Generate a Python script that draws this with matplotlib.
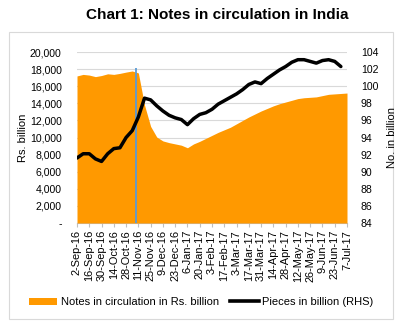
import matplotlib
matplotlib.use("Agg")
import matplotlib.pyplot as plt
import matplotlib.patches as mpatches
import matplotlib.lines as mlines
import pandas as pd
import numpy as np

plt.rcParams['font.family'] = ['Liberation Sans', 'DejaVu Sans']

# Weekly observations, 2 Sep 2016 to 7 Jul 2017
week_dates = pd.date_range("2016-09-02", "2017-07-07", freq="7D")

# Notes in circulation, Rs. billion (left axis)
notes_value = [17200, 17380, 17300, 17120, 17250, 17450, 17380, 17500, 17650, 17780,
               17550, 13800, 11300, 10050, 9600, 9400, 9250, 9100, 8800, 9250,
               9550, 9900, 10250, 10600, 10900, 11200, 11600, 12000, 12400, 12750,
               13100, 13400, 13700, 13950, 14150, 14350, 14550, 14650, 14700, 14750,
               14900, 15050, 15100, 15150, 15200]

# Pieces in circulation, billion (right axis); last week not reported
pieces = [91.6, 92.1, 92.1, 91.5, 91.2, 92.1, 92.7, 92.8, 94.0, 94.8,
          96.4, 98.6, 98.4, 97.7, 97.1, 96.6, 96.3, 96.1, 95.5, 96.2,
          96.7, 96.9, 97.3, 97.9, 98.3, 98.7, 99.1, 99.6, 100.2, 100.5,
          100.3, 100.9, 101.4, 101.9, 102.3, 102.8, 103.1, 103.1, 102.9, 102.7,
          103.0, 103.1, 102.9, 102.3, np.nan]

tick_labels = ["2-Sep-16", "16-Sep-16", "30-Sep-16", "14-Oct-16", "28-Oct-16",
               "11-Nov-16", "25-Nov-16", "9-Dec-16", "23-Dec-16", "6-Jan-17",
               "20-Jan-17", "3-Feb-17", "17-Feb-17", "3-Mar-17", "17-Mar-17",
               "31-Mar-17", "14-Apr-17", "28-Apr-17", "12-May-17", "26-May-17",
               "9-Jun-17", "23-Jun-17", "7-Jul-17"]

left_ticks = list(range(0, 20001, 2000))
left_tick_labels = ["-"] + [f"{v:,}" for v in left_ticks[1:]]
right_ticks = list(range(84, 105, 2))

demonetisation_date = pd.Timestamp("2016-11-08")
marker_height = 18100

ORANGE = "#ff9900"
BLUE = "#5b9bd5"
GRID = "#d9d9d9"
FS = 7.6

W, H = 402, 333
fig = plt.figure(figsize=(W / 100, H / 100), dpi=100)

# chart frame
fig.patches.append(mpatches.Rectangle((9 / W, 1 - 319 / H), 384 / W, 287 / H,
                                      transform=fig.transFigure, fill=False,
                                      edgecolor="#d9d9d9", linewidth=0.8))

fig.text(217 / W, 1 - 15 / H, "Chart 1: Notes in circulation in India",
         ha="center", va="center", fontsize=11, fontweight="bold")

ax = fig.add_axes([77 / W, 1 - 223 / H, 270 / W, 171 / H])
ax2 = ax.twinx()

ax.set_zorder(1)
ax2.set_zorder(2)
ax.patch.set_visible(False)
ax2.patch.set_visible(False)

ax.fill_between(week_dates, 0, notes_value, color=ORANGE, linewidth=0, zorder=2)
ax.vlines(demonetisation_date, 0, marker_height, color=BLUE, linewidth=1.3, zorder=3)
ax2.plot(week_dates, pieces, color="black", linewidth=2.5, solid_capstyle="round",
         solid_joinstyle="round")

ax.set_xlim(week_dates[0], week_dates[-1])
ax.set_ylim(0, 20000)
ax2.set_ylim(84, 104)

ax.set_yticks(left_ticks)
ax.set_yticklabels(left_tick_labels, fontsize=FS)
ax2.set_yticks(right_ticks)
ax2.set_yticklabels([str(v) for v in right_ticks], fontsize=FS)
ax.set_xticks(week_dates[::2])
ax.set_xticklabels(tick_labels, rotation=90, fontsize=7.9)

ax.grid(axis="y", color=GRID, linewidth=0.8, zorder=0)
for a in (ax, ax2):
    for s in a.spines.values():
        s.set_visible(False)
ax.spines["bottom"].set_visible(True)
ax.spines["bottom"].set_color("#bfbfbf")
ax.spines["bottom"].set_linewidth(0.8)
ax.spines["bottom"].set_zorder(0.5)
ax.tick_params(axis="y", length=0, pad=11)
ax2.tick_params(axis="y", length=0, pad=10)
ax.tick_params(axis="x", length=3, color="#bfbfbf", pad=2)

ax.set_ylabel("Rs. billion", fontsize=FS + 0.4, labelpad=1)
ax2.set_ylabel("No. in billion", fontsize=FS + 0.4, labelpad=6)

handles = [mpatches.Patch(facecolor=ORANGE, edgecolor="none"),
           mlines.Line2D([], [], color="black", linewidth=2.6)]
labels = ["Notes in circulation in Rs. billion", "Pieces in billion (RHS)"]
fig.legend(handles, labels, loc="center", bbox_to_anchor=(201 / W, 1 - 302 / H),
           ncol=2, frameon=False, fontsize=FS + 0.4, handlelength=2.6,
           handleheight=0.6, handletextpad=0.3, columnspacing=1.0, borderpad=0)

fig.savefig("out.png", dpi=100)
